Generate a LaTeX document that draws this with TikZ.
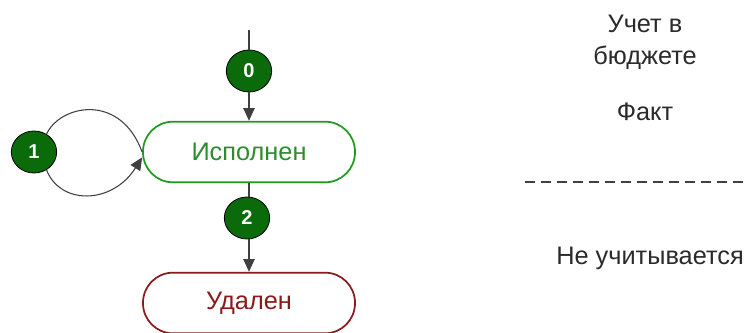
\documentclass[tikz,border=0pt]{standalone}
\usepackage{fontspec}
\setmainfont{Liberation Sans}
\usetikzlibrary{shapes.geometric,arrows.meta}
\definecolor{stategreen}{HTML}{1E9A1E}
\definecolor{statetext}{HTML}{2E8B2E}
\definecolor{statered}{HTML}{8B1A1A}
\definecolor{numfill}{HTML}{0B6B0B}
\definecolor{linegray}{HTML}{404040}
\definecolor{txtgray}{HTML}{2A2A2A}
\tikzset{
  px/.style={x=0.75pt,y=-0.75pt},
  statebox/.style={draw,line width=1.3pt,rounded corners=22.5pt,minimum width=159pt,minimum height=45.5pt,fill=white,font=\fontsize{19}{22}\selectfont},
  numcirc/.style={ellipse,draw=black,line width=0.6pt,fill=numfill,minimum width=34pt,minimum height=31.5pt,inner sep=0pt,text=white,font=\fontsize{15}{17}\bfseries},
  conn/.style={draw=linegray,line width=0.8pt},
  arr/.style={conn,-{Triangle[length=9.5pt,width=8.5pt]},shorten >=0pt},
  side/.style={text=txtgray,font=\fontsize{19}{24}\selectfont,align=center}
}
\begin{document}
\begin{tikzpicture}[px]
\useasboundingbox (0,0) rectangle (748,332);
\node[statebox,draw=stategreen,text=statetext] (isp) at (249,152) {Исполнен};
\node[statebox,draw=statered,text=statered] (del) at (249,303) {Удален};
\coordinate (top) at (249,30);
\node[numcirc] (c0) at (249,71) {0};
\node[numcirc] (c1) at (34,152) {1};
\node[numcirc] (c2) at (247,218) {2};
\draw[conn] (top) -- (c0);
\draw[arr] (c0) -- (isp.north);
\draw[conn] (isp.south) -- (isp.south |- c2.north);
\draw[arr] (isp.south |- c2.south) -- (del.north);
\draw[conn] (c1.55) .. controls (60,105) and (120,92) .. (isp.west);
\draw[arr] (c1.-55) .. controls (60,205) and (112,205) .. ([yshift=-4pt]isp.west);
\node[side] (budget) at (645,42) {Учет в\\бюджете};
\node[side] (fact) at (645,112) {Факт};
\coordinate (dashL) at (525,182);
\coordinate (dashR) at (748,182);
\draw[draw=linegray,line width=0.9pt,dash pattern=on 7.5pt off 4.5pt] (dashL) -- (dashR);
\node[side] (notcount) at (650,258) {Не учитывается};
\end{tikzpicture}
\end{document}
